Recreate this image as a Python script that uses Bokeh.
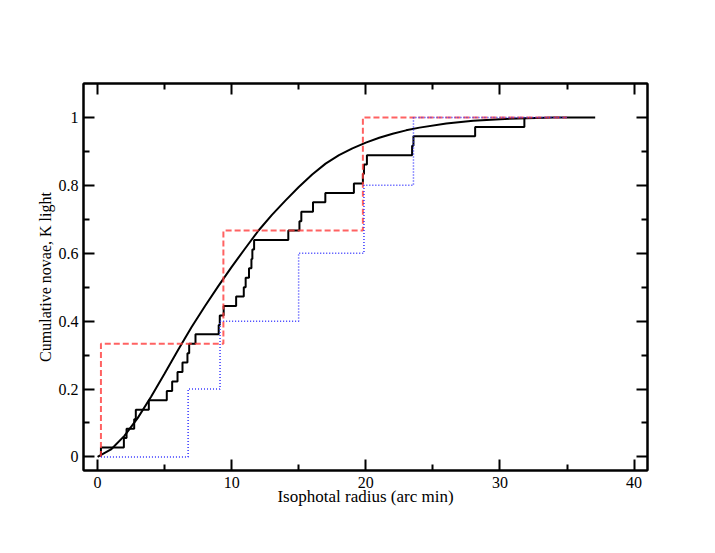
from bokeh.plotting import figure
from bokeh.models import FixedTicker, NumeralTickFormatter, LinearAxis, Range1d
from bokeh.embed import file_html
from bokeh.resources import INLINE

# Observed novae radii (arc min), black step ECDF
radii_all = [0.25, 1.96, 2.16, 2.73, 2.85, 3.82, 5.16, 5.56, 5.96, 6.33, 6.70, 6.83,
             7.30, 9.03, 9.11, 9.40, 10.33, 10.90, 11.04, 11.29, 11.47, 11.54, 11.67,
             14.22, 15.05, 15.19, 16.06, 16.98, 19.11, 19.78, 19.86, 20.08, 23.45,
             23.55, 28.15, 31.82]
# red dashed ECDF
radii_red = [0.25, 9.38, 19.78]
# blue dotted ECDF
radii_blue = [6.75, 9.13, 14.99, 19.86, 23.55]

# smooth model curve
model_x = [0.0, 1.0, 2.0, 3.0, 4.0, 5.0, 6.0, 7.0, 8.0, 9.0, 10.0, 11.0, 12.0, 13.0,
           14.0, 15.0, 16.0, 17.0, 18.0, 19.0, 20.0, 21.0, 22.0, 23.0, 24.0, 26.0,
           28.0, 30.0, 32.0, 34.0, 37.1]
model_y = [0.0, 0.022, 0.062, 0.115, 0.178, 0.246, 0.315, 0.382, 0.444, 0.503, 0.56,
           0.614, 0.667, 0.713, 0.755, 0.795, 0.832, 0.864, 0.889, 0.909, 0.926, 0.94,
           0.952, 0.962, 0.97, 0.982, 0.99, 0.995, 0.998, 1.0, 1.0]

x_ticks = [0, 10, 20, 30, 40]
x_minor = [5, 15, 25, 35]
y_ticks = [0, 0.2, 0.4, 0.6, 0.8, 1.0]
y_minor = [0.1, 0.3, 0.5, 0.7, 0.9]


def ecdf(radii, start, end):
    n = len(radii)
    xs = [start] + list(radii) + [end]
    ys = [0.0] + [(i + 1) / n for i in range(n)] + [1.0]
    return xs, ys


FONT = "Liberation Serif"

p = figure(width=699, height=537, output_backend="svg", toolbar_location=None,
           x_range=Range1d(-1.05, 41.0), y_range=Range1d(-0.04, 1.1),
           min_border_left=83, min_border_right=52, min_border_top=83,
           min_border_bottom=67, x_axis_label="Isophotal radius (arc min)",
           y_axis_label="Cumulative novae, K light")
p.frame_width = 564
p.frame_height = 387
p.grid.visible = False
p.outline_line_color = "black"
p.outline_line_width = 2
p.background_fill_color = "white"
p.border_fill_color = "white"

p.line(model_x, model_y, line_color="black", line_width=2)

bx, by = ecdf(radii_all, 0.25, 31.82)
p.step(bx, by, mode="after", line_color="black", line_width=2)

rx, ry = ecdf(radii_red, 0.25, 35.0)
p.step(rx, ry, mode="after", line_color="#ff3b3b", line_width=2, line_alpha=0.8,
       line_dash="6 3")

ux, uy = ecdf(radii_blue, 0.25, 35.0)
p.step(ux, uy, mode="after", line_color="#3535ff", line_width=1.5,
       line_dash="1 2")


def style(ax, ticks, minor, labels=True):
    ax.ticker = FixedTicker(ticks=ticks, minor_ticks=minor)
    ax.major_tick_in = 11
    ax.major_tick_out = 0
    ax.minor_tick_in = 6
    ax.minor_tick_out = 0
    ax.major_tick_line_width = 2
    ax.minor_tick_line_width = 2
    ax.axis_line_width = 2
    ax.major_label_text_font = FONT
    ax.major_label_text_font_size = "16px"
    ax.major_label_text_color = "black"
    ax.axis_label_text_font = FONT
    ax.axis_label_text_font_size = "16px"
    ax.axis_label_text_font_style = "normal"
    ax.axis_label_text_color = "black"
    if not labels:
        ax.major_label_text_alpha = 0
        ax.major_label_text_font_size = "1px"


style(p.xaxis[0], x_ticks, x_minor)
p.xaxis[0].major_label_standoff = 6
p.xaxis[0].axis_label_standoff = -4
p.xaxis[0].axis_label_text_font_size = "17px"
style(p.yaxis[0], y_ticks, y_minor)
p.yaxis[0].formatter = NumeralTickFormatter(format="0.[0]")
p.yaxis[0].major_label_standoff = 5
p.yaxis[0].axis_label_standoff = 2

top = LinearAxis()
style(top, x_ticks, x_minor, labels=False)
p.add_layout(top, "above")
right = LinearAxis()
style(right, y_ticks, y_minor, labels=False)
p.add_layout(right, "right")

open("out.html", "w").write(file_html(p, INLINE))
